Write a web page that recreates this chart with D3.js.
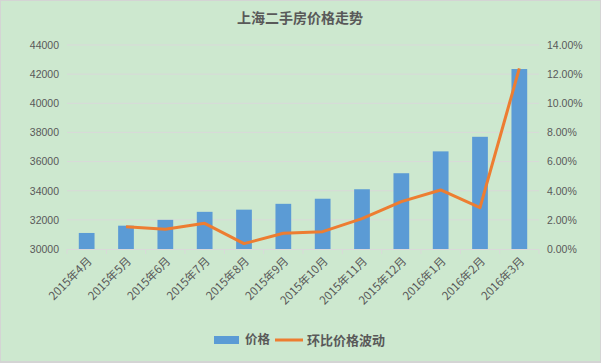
<!DOCTYPE html>
<html><head><meta charset="utf-8">
<script src="https://cdn.jsdelivr.net/npm/d3@7"></script>
<style>body{margin:0;background:#fff}svg{display:block}</style>
</head><body><svg id="c" width="601" height="363"></svg>
<script>
const categories = ["2015年4月","2015年5月","2015年6月","2015年7月","2015年8月","2015年9月","2015年10月","2015年11月","2015年12月","2016年1月","2016年2月","2016年3月"];
const prices = [31100,31600,32000,32550,32700,33100,33450,34100,35200,36700,37700,42350];
const changes = [null,1.52,1.35,1.76,0.37,1.08,1.19,2.08,3.25,4.05,2.84,12.4];
const leftTicks = [30000,32000,34000,36000,38000,40000,42000,44000];
const rightTicks = [0,2,4,6,8,10,12,14];
const title = "上海二手房价格走势";
const seriesNames = ["价格","环比价格波动"];

const svg = d3.select("#c");
const L = 67, R = 539, T = 45, B = 249;
const txt = "#595959", grid = "#d9d9d9";
const numFont = "'Liberation Sans', Arial, sans-serif";
const cjkFont = "'Noto Sans CJK SC', 'Microsoft YaHei', sans-serif";

svg.append("rect").attr("x",0).attr("y",0).attr("width",601).attr("height",363).attr("fill","#d4d4d4");
svg.append("rect").attr("x",1).attr("y",1).attr("width",599).attr("height",360).attr("fill","#CDE8CF");

const x = d3.scaleBand().domain(categories).range([L,R]).paddingInner(0.6).paddingOuter(0.3);
const y = d3.scaleLinear().domain([30000,44000]).range([B,T]);
const y2 = d3.scaleLinear().domain([0,14]).range([B,T]);

// gridlines
svg.append("g").selectAll("line").data(leftTicks.slice(1)).join("line")
  .attr("x1",L).attr("x2",R).attr("y1",d=>y(d)).attr("y2",d=>y(d))
  .attr("stroke",grid).attr("stroke-width",1);

// left axis
const la = svg.append("g").attr("transform",`translate(${L-8},0)`)
  .call(d3.axisLeft(y).tickValues(leftTicks).tickSize(0).tickPadding(0).tickFormat(d3.format("d")));
la.select(".domain").remove();
la.selectAll("text").attr("fill",txt).style("font-family",numFont).style("font-size","10.5px");

// right axis
const ra = svg.append("g").attr("transform",`translate(${R+8},0)`)
  .call(d3.axisRight(y2).tickValues(rightTicks).tickSize(0).tickPadding(0).tickFormat(d=>d.toFixed(2)+"%"));
ra.select(".domain").remove();
ra.selectAll("text").attr("fill",txt).style("font-family",numFont).style("font-size","10.5px");

// bars
svg.append("g").selectAll("rect").data(prices).join("rect")
  .attr("x",(d,i)=>x(categories[i])).attr("width",x.bandwidth())
  .attr("y",d=>y(d)).attr("height",d=>B-y(d)).attr("fill","#5B9BD5");

// category axis
svg.append("line").attr("x1",L).attr("x2",R).attr("y1",B+0.5).attr("y2",B+0.5).attr("stroke",grid);
const step = x.step();
svg.append("g").selectAll("line").data(d3.range(categories.length+1)).join("line")
  .attr("x1",i=>L+i*step).attr("x2",i=>L+i*step).attr("y1",B).attr("y2",B+5).attr("stroke",grid);
svg.append("g").selectAll("text").data(categories).join("text")
  .attr("transform",d=>`translate(${x(d)+x.bandwidth()/2+3},${B+10}) rotate(-45)`)
  .attr("text-anchor","end").attr("dy","0.35em")
  .attr("fill",txt).style("font-family",cjkFont).style("font-size","11.5px").text(d=>d);

// line
const line = d3.line().defined(d=>d!=null)
  .x((d,i)=>x(categories[i])+x.bandwidth()/2).y(d=>y2(d));
svg.append("path").datum(changes).attr("d",line).attr("fill","none")
  .attr("stroke","#ED7D31").attr("stroke-width",3).attr("stroke-linejoin","round");

// title
svg.append("text").attr("x",300).attr("y",23).attr("text-anchor","middle")
  .attr("fill",txt).style("font-family",cjkFont).style("font-size","14px").style("font-weight","bold").text(title);

// legend
const lg = svg.append("g");
lg.append("rect").attr("x",214).attr("y",336).attr("width",25).attr("height",8).attr("fill","#5B9BD5");
lg.append("text").attr("x",245).attr("y",340).attr("dy","0.35em").attr("fill",txt)
  .style("font-family",cjkFont).style("font-size","12.5px").style("font-weight","bold").text(seriesNames[0]);
lg.append("line").attr("x1",275).attr("x2",303).attr("y1",340).attr("y2",340).attr("stroke","#ED7D31").attr("stroke-width",3);
lg.append("text").attr("x",307).attr("y",340).attr("dy","0.35em").attr("fill",txt)
  .style("font-family",cjkFont).style("font-size","13px").style("font-weight","bold").text(seriesNames[1]);
</script></body></html>
